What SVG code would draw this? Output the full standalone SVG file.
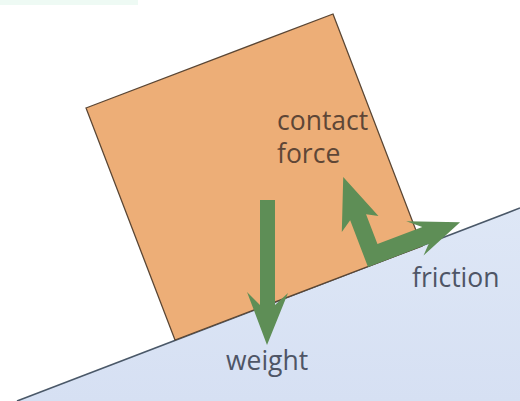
<svg xmlns="http://www.w3.org/2000/svg" width="520" height="401" viewBox="0 0 520 401">
<style>
.arrow{fill:#5e8e56;}
.lbl{font-family:"Open Sans","Liberation Sans",sans-serif;font-size:26.5px;}
</style>
<defs>
<linearGradient id="slope" x1="0" y1="0" x2="0" y2="1">
<stop offset="0" stop-color="#dee7f6"/>
<stop offset="1" stop-color="#d6e0f3"/>
</linearGradient>
</defs>
<rect width="520" height="401" fill="#ffffff"/>
<rect x="0" y="0" width="138" height="5" fill="#eefaf4"/>
<g id="incline">
<polygon points="17,401 520,208 520,401" fill="url(#slope)"/>
<line x1="17" y1="401" x2="520" y2="208" stroke="#4a5868" stroke-width="1.6"/>
</g>
<g id="box">
<polygon points="86,108 333,14 422,246 175,340" fill="#edae77" stroke="#5a4634" stroke-width="1.3"/>
</g>
<g id="connectors">
<polygon id="weight-arrow" class="arrow" points="260,200 260,305 247,292 267,345 288,293 275,305 275,200"/>
<g id="contact-friction-arrows" transform="translate(368,267) rotate(-20.9)">
<polygon class="arrow" points="0,0 0,-50 -12,-42 9,-93 28,-44 17,-50 17,-18 65,-18 52,-29 102,-9 56,9 65,0"/>
</g>
</g>
<g id="label-contact">
<text class="lbl" x="277" y="130" fill="#5e4636">contact</text>
<text class="lbl" x="277" y="163" fill="#5e4636">force</text>
</g>
<g id="label-friction">
<text class="lbl" x="412" y="287" fill="#4e5566">friction</text>
</g>
<g id="label-weight">
<text class="lbl" x="226" y="370" fill="#4e5566">weight</text>
</g>
</svg>
